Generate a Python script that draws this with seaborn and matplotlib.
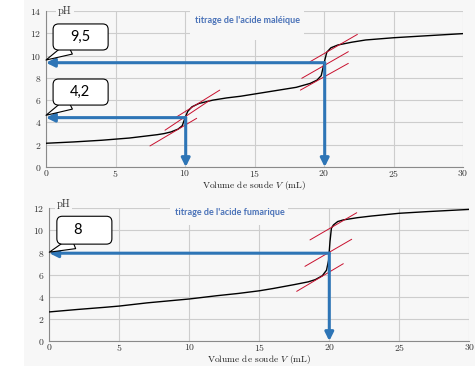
import numpy as np
import pandas as pd
import matplotlib
matplotlib.use("Agg")
import matplotlib.pyplot as plt
import seaborn as sns
from matplotlib.patches import Rectangle, FancyBboxPatch

# ---------------- data ----------------
v_maleic = [0, 2, 4, 5, 6, 7, 8, 8.5, 9, 9.5, 9.8, 10, 10.2, 10.5, 11, 12, 13, 14, 15,
            16, 17, 18, 19, 19.5, 19.8, 20, 20.2, 20.5, 21, 22, 23, 25, 27, 30]
ph_maleic = [2.13, 2.25, 2.4, 2.5, 2.6, 2.75, 2.9, 3.0, 3.15, 3.4, 3.7, 4.4, 5.0, 5.4, 5.7,
             6.0, 6.2, 6.35, 6.55, 6.75, 6.95, 7.15, 7.5, 7.8, 8.2, 9.3, 10.3, 10.7,
             10.95, 11.2, 11.4, 11.6, 11.75, 11.97]

v_fumaric = [0, 2, 4, 5, 7, 10, 12, 13.5, 15, 16, 17.5, 18.5, 19, 19.5, 19.8, 19.95,
             20.05, 20.15, 20.3, 20.6, 21, 22, 23, 25, 27, 30]
ph_fumaric = [2.63, 2.85, 3.05, 3.16, 3.45, 3.8, 4.1, 4.3, 4.54, 4.75, 5.1, 5.35, 5.55,
              5.9, 6.4, 7.3, 9.0, 10.2, 10.5, 10.8, 10.95, 11.15, 11.3, 11.55, 11.7, 11.9]

# tangent segments (start V, end V, start pH, end pH)
tan_maleic_v0 = [7.48, 8.56, 9.40, 18.3, 18.4, 19.0]
tan_maleic_v1 = [10.84, 11.8, 12.5, 21.75, 21.75, 22.4]
tan_maleic_p0 = [1.89, 3.3, 4.5, 6.9, 7.96, 9.45]
tan_maleic_p1 = [4.37, 6.0, 6.9, 9.3, 10.35, 11.9]

tan_fumaric_v0 = [17.67, 18.26, 18.62]
tan_fumaric_v1 = [21.0, 21.6, 21.96]
tan_fumaric_p0 = [4.49, 6.75, 9.14]
tan_fumaric_p1 = [6.99, 9.2, 11.6]

# equivalence readings
veq_maleic = [10.05, 20.05]
pheq_maleic = [4.43, 9.36]
veq_fumaric = [20.0]
pheq_fumaric = [7.94]

callout_maleic = ["9,5", "4,2"]
callout_maleic_tip = [9.6, 4.64]
callout_fumaric = ["8"]
callout_fumaric_tip = [8.03]

x_ticks = [0, 5, 10, 15, 20, 25, 30]
y_ticks_top = [0, 2, 4, 6, 8, 10, 12, 14]
y_ticks_bottom = [0, 2, 4, 6, 8, 10, 12]

title_top = "titrage de l'acide maléique"
title_bottom = "titrage de l'acide fumarique"
xlabel = r"Volume de soude $V$ (mL)"

# ---------------- style ----------------
BG = "#f7f7f7"
GRID = "#cdcdcd"
SPINE = "#8a8a8a"
BLUE = "#2E75B6"
TBLUE = "#4A72B8"
RED = "#c8102e"

sns.set_style("white")
plt.rcParams["mathtext.fontset"] = "cm"
plt.rcParams["axes.formatter.use_mathtext"] = True

fig = plt.figure(figsize=(4.75, 3.66), dpi=100, facecolor=BG)
fig.add_artist(Rectangle((0, 0), 24 / 475, 1, transform=fig.transFigure,
                         facecolor="white", edgecolor="none", zorder=0))

ax1 = fig.add_axes([46 / 475, 1 - 167 / 366, 417 / 475, 156 / 366])
ax2 = fig.add_axes([49.3 / 475, 1 - 341 / 366, 420 / 475, 132.7 / 366])


def curve(ax, v, ph):
    df = pd.DataFrame({"V": v, "pH": ph})
    sns.lineplot(data=df, x="V", y="pH", ax=ax, color="black", lw=1.0,
                 sort=False, estimator=None, zorder=3)


def tangents(ax, v0, v1, p0, p1):
    for a, b, c, d in zip(v0, v1, p0, p1):
        sns.lineplot(x=[a, b], y=[c, d], ax=ax, color=RED, lw=0.7,
                     sort=False, estimator=None, zorder=4)


def setup(ax, yticks, ymax, label_y):
    ax.set_facecolor(BG)
    ax.set_xlim(0, 30)
    ax.set_ylim(0, ymax)
    ax.set_xticks(x_ticks)
    ax.set_yticks(yticks)
    ax.grid(True, color=GRID, lw=0.8)
    for s in ["top", "right"]:
        ax.spines[s].set_visible(False)
    for s in ["left", "bottom"]:
        ax.spines[s].set_color(SPINE)
        ax.spines[s].set_linewidth(0.8)
    ax.tick_params(labelfontfamily="cmr10", labelsize=7, length=0,
                   colors="#333333")
    ax.tick_params(axis="x", pad=1.0)
    ax.tick_params(axis="y", pad=3.5)
    ax.set_xlabel(xlabel, fontfamily="cmr10", fontsize=6.8, color="#222222")
    ax.xaxis.set_label_coords(0.5, label_y)
    ax.set_ylabel("")


def blue_arrows(ax, vs, phs):
    kw = dict(arrowstyle="-|>,head_length=0.5,head_width=0.25", color=BLUE,
              lw=2.2, shrinkA=0, shrinkB=0)
    for v, p in zip(vs, phs):
        ax.annotate("", xy=(0, p), xytext=(v, p), arrowprops=kw, zorder=5)
        ax.annotate("", xy=(v, 0), xytext=(v, p), arrowprops=kw, zorder=5)


def callout(ax, text, tip, box, aspect):
    x0, y0, w, h = box
    ax.annotate("", xy=(0, tip), xycoords="data",
                xytext=(x0 + 0.3 * w, y0 + 0.01), textcoords="axes fraction",
                arrowprops=dict(arrowstyle="wedge,tail_width=0.9,shrink_factor=0.5",
                                fc="white", ec="black", lw=0.8,
                                shrinkA=0, shrinkB=0),
                zorder=6, annotation_clip=False)
    ax.add_patch(FancyBboxPatch((x0, y0), w, h, transform=ax.transAxes,
                                boxstyle="round,pad=0,rounding_size=0.013",
                                mutation_aspect=aspect, fc="white", ec="black",
                                lw=0.8, zorder=7, clip_on=False))
    ax.text(x0 + 0.04, y0 + h / 2, text, transform=ax.transAxes, ha="left",
            va="center", fontsize=10.5, family="Lato", color="black", zorder=8)


def title_box(ax, x0, x1, y0, y1, title, tx, ty):
    ax.add_patch(Rectangle((x0, y0), x1 - x0, y1 - y0, transform=ax.transAxes,
                           fc=BG, ec="none", zorder=1, clip_on=False))
    ax.text(tx, ty, title, transform=ax.transAxes, ha="center", va="center",
            fontsize=6.5, fontweight="bold", family="Lato", color=TBLUE, zorder=2)


def ph_label(ax, x, y):
    ax.text(x, y, "pH", transform=ax.transAxes, ha="left", va="center",
            fontfamily="cmr10", fontsize=7.5, color="#333333",
            bbox=dict(fc=BG, ec="none", pad=1.5), zorder=2, clip_on=False)


# ---------- top panel ----------
curve(ax1, v_maleic, ph_maleic)
tangents(ax1, tan_maleic_v0, tan_maleic_v1, tan_maleic_p0, tan_maleic_p1)
setup(ax1, y_ticks_top, 14, -0.08)
title_box(ax1, 0.345, 0.619, 0.814, 1.1, title_top, 0.483, 0.942)
ph_label(ax1, 0.029, 1.0)
blue_arrows(ax1, veq_maleic, pheq_maleic)
callout(ax1, callout_maleic[0], callout_maleic_tip[0], (0.017, 0.75, 0.132, 0.167), 417 / 156)
callout(ax1, callout_maleic[1], callout_maleic_tip[1], (0.017, 0.397, 0.132, 0.167), 417 / 156)

# ---------- bottom panel ----------
curve(ax2, v_fumaric, ph_fumaric)
tangents(ax2, tan_fumaric_v0, tan_fumaric_v1, tan_fumaric_p0, tan_fumaric_p1)
setup(ax2, y_ticks_bottom, 12, -0.094)
title_box(ax2, 0.287, 0.568, 0.877, 1.05, title_bottom, 0.431, 0.965)
ph_label(ax2, 0.0176, 1.03)
blue_arrows(ax2, veq_fumaric, pheq_fumaric)
callout(ax2, callout_fumaric[0], callout_fumaric_tip[0], (0.018, 0.73, 0.131, 0.21), 420 / 132.7)

fig.savefig("out.png", dpi=100, facecolor=BG)
